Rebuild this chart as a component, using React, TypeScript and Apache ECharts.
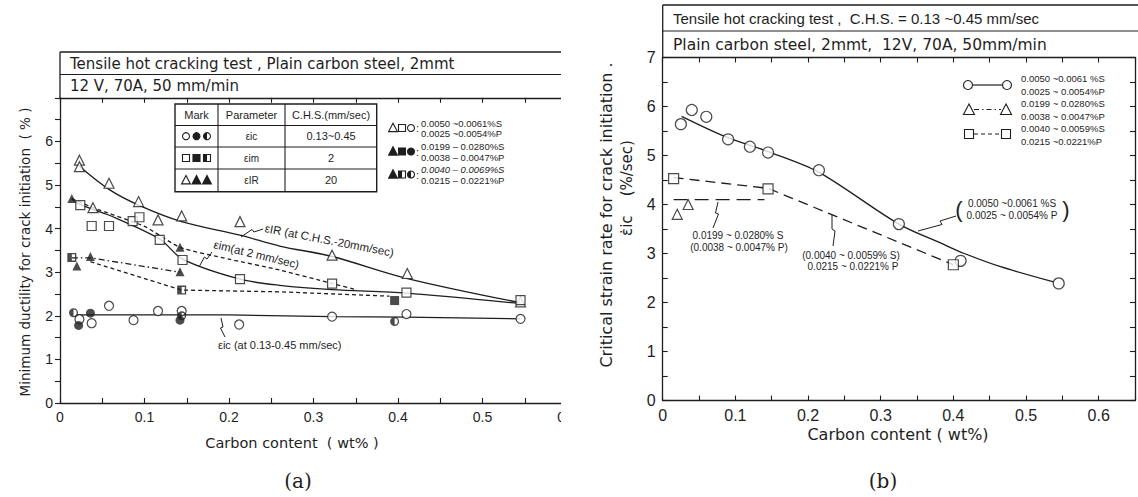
import React, { useEffect, useRef } from "react";
import * as echarts from "echarts";

// ---------------- Panel (a): minimum ductility vs carbon content ----------------
const aTriOpen = [[0.023, 5.57], [0.023, 5.42], [0.039, 4.48], [0.058, 5.04], [0.093, 4.62], [0.116, 4.2], [0.144, 4.29], [0.213, 4.16], [0.322, 3.39], [0.411, 2.97], [0.545, 2.32]];
const aTriFilled = [[0.014, 4.69], [0.142, 3.57], [0.02, 3.14], [0.036, 3.36], [0.142, 3.01]];
const aSqOpen = [[0.024, 4.54], [0.0375, 4.06], [0.058, 4.06], [0.086, 4.17], [0.094, 4.26], [0.118, 3.74], [0.145, 3.28], [0.213, 2.84], [0.322, 2.74], [0.41, 2.53], [0.545, 2.36]];
const aSqFilled = [[0.396, 2.35]];
const aSqHalf = [[0.014, 3.34], [0.144, 2.59]];
const aCirOpen = [[0.023, 1.92], [0.0375, 1.83], [0.058, 2.23], [0.087, 1.9], [0.116, 2.11], [0.144, 2.11], [0.212, 1.8], [0.322, 1.98], [0.41, 2.04], [0.545, 1.93]];
const aCirFilled = [[0.022, 1.78], [0.142, 1.9], [0.036, 2.06]];
const aCirHalf = [[0.016, 2.07], [0.144, 2.0], [0.396, 1.87]];

const aIrCurve = [[0.023, 5.43], [0.058, 4.9], [0.093, 4.54], [0.144, 4.16], [0.213, 3.85], [0.26, 3.6], [0.322, 3.36], [0.41, 2.86], [0.545, 2.3]];
const aImCurve = [[0.014, 4.68], [0.024, 4.55], [0.059, 4.3], [0.118, 3.76], [0.145, 3.3], [0.213, 2.84], [0.26, 2.7], [0.322, 2.6], [0.41, 2.52], [0.545, 2.28]];
const aIrDashed = [[0.014, 4.69], [0.039, 4.48], [0.1, 4.05], [0.142, 3.57], [0.2, 3.3], [0.26, 3.05], [0.322, 2.74], [0.35, 2.6]];
const aDashDot = [[0.014, 3.33], [0.036, 3.33], [0.142, 3.0]];
const aDashedHalf = [[0.036, 3.24], [0.144, 2.59], [0.26, 2.55], [0.39, 2.45]];
const aIcLine = [[0.02, 2.02], [0.2, 2.02], [0.322, 1.98], [0.41, 1.97], [0.545, 1.93]];

// ---------------- Panel (b): critical strain rate vs carbon content ----------------
const bCircles = [[0.025, 5.64], [0.04, 5.93], [0.06, 5.79], [0.09, 5.33], [0.12, 5.18], [0.145, 5.06], [0.215, 4.7], [0.325, 3.6], [0.41, 2.85], [0.545, 2.39]];
const bSquares = [[0.015, 4.53], [0.145, 4.32], [0.4, 2.77]];
const bTriangles = [[0.02, 3.8], [0.035, 4.0]];
const bSolidCurve = [[0.026, 5.8], [0.087, 5.38], [0.145, 5.08], [0.2135, 4.67], [0.325, 3.6], [0.383, 3.21], [0.415, 3.0], [0.465, 2.73], [0.538, 2.42]];
const bSquareLine = [[0.015, 4.55], [0.145, 4.33], [0.4, 2.77]];
const bTriangleLine = [[0.015, 4.1], [0.14, 4.1]];

const xTickStep = 0.05;
const yTickStep = 0.5;

const INK = "#1e1e1e";
const FONT = '"Liberation Sans", Arial, sans-serif';
const WIDE = '"DejaVu Sans", "Liberation Sans", sans-serif';
const SERIF = '"DejaVu Serif", "Liberation Serif", serif';

const HALF_RECT = "path://M0,0 H10 V10 H0 Z M5,1.5 V8.5 H8.5 V1.5 Z";
const HALF_CIRCLE = "path://M5,0 A5,5 0 1,1 5,10 A5,5 0 1,1 5,0 Z M5,1.5 L5,8.5 A3.5,3.5 0 0,0 5,1.5 Z";

const xFmt = (v: number) => {
  const k = Math.round(v * 100);
  if (k % 10 !== 0) return "";
  return k === 0 ? "0" : (k / 100).toFixed(1);
};

function txt(x: number, y: number, text: string, size: number, extra: any = {}) {
  const { align = "left", rotation = 0, family = FONT, style = {} } = extra;
  return {
    type: "text",
    x,
    y,
    rotation,
    z: 20,
    style: { text, fontSize: size, fontFamily: family, fill: INK, textAlign: align, textVerticalAlign: "middle", ...style },
  };
}
function ln(x1: number, y1: number, x2: number, y2: number, w = 1.2, dash: any = null) {
  return { type: "line", z: 20, shape: { x1, y1, x2, y2 }, style: { stroke: INK, lineWidth: w, lineDash: dash } };
}
function pl(points: number[][], w = 1) {
  return { type: "polyline", z: 20, shape: { points }, style: { stroke: INK, fill: null, lineWidth: w } };
}
function circ(cx: number, cy: number, r: number, kind: string) {
  const els: any[] = [{ type: "circle", z: 21, shape: { cx, cy, r }, style: { fill: kind === "filled" ? INK : "#fff", stroke: INK, lineWidth: 1.1 } }];
  if (kind === "half") els.push({ type: "sector", z: 22, shape: { cx, cy, r, r0: 0, startAngle: Math.PI / 2, endAngle: (3 * Math.PI) / 2 }, style: { fill: INK } });
  return els;
}
function sq(cx: number, cy: number, s: number, kind: string) {
  const els: any[] = [{ type: "rect", z: 21, shape: { x: cx - s / 2, y: cy - s / 2, width: s, height: s }, style: { fill: kind === "filled" ? INK : "#fff", stroke: INK, lineWidth: 1.1 } }];
  if (kind === "half") els.push({ type: "rect", z: 22, shape: { x: cx - s / 2, y: cy - s / 2, width: s / 2, height: s }, style: { fill: INK } });
  return els;
}
function tri(cx: number, cy: number, s: number, kind: string) {
  return [{ type: "polygon", z: 21, shape: { points: [[cx, cy - s * 0.6], [cx - s * 0.55, cy + s * 0.45], [cx + s * 0.55, cy + s * 0.45]] }, style: { fill: kind === "filled" ? INK : "#fff", stroke: INK, lineWidth: 1.1 } }];
}

function buildGraphics() {
  const g: any[] = [];
  // ---------- panel (a) header ----------
  g.push(ln(60, 52, 561, 52, 1.3), ln(60, 74.5, 561, 74.5, 1.1), ln(60, 52, 60, 98, 1.3));
  g.push(txt(70, 63.5, "Tensile hot cracking test , Plain carbon steel, 2mmt", 15, { family: WIDE }));
  g.push(txt(70, 86, "12 V, 70A, 50 mm/min", 15, { family: WIDE }));
  // ---------- panel (a) table ----------
  const tL = 175, tR = 376.7, tT = 104, tB = 191.7;
  g.push({ type: "rect", z: 20, shape: { x: tL, y: tT, width: tR - tL, height: tB - tT }, style: { fill: "#fff", stroke: INK, lineWidth: 1.4 } });
  [125.5, 147, 169].forEach((y) => g.push(ln(tL, y, tR, y, 1.1)));
  [218, 285].forEach((x) => g.push(ln(x, tT, x, tB, 1.1)));
  const rows = [114.7, 136.2, 158, 180.3];
  g.push(txt(196.5, rows[0], "Mark", 11, { align: "center" }));
  g.push(txt(251.5, rows[0], "Parameter", 11, { align: "center" }));
  g.push(txt(331, rows[0], "C.H.S.(mm/sec)", 11, { align: "center" }));
  g.push(...circ(186, rows[1], 3.5, "open"), ...circ(196.5, rows[1], 3.5, "filled"), ...circ(207, rows[1], 3.5, "half"));
  g.push(...sq(186, rows[2], 7, "open"), ...sq(196.5, rows[2], 7, "filled"), ...sq(207, rows[2], 7, "half"));
  g.push(...tri(186, rows[3], 8, "open"), ...tri(196.5, rows[3], 8, "filled"), ...tri(207, rows[3], 8, "filled"));
  g.push(txt(251.5, rows[1], "εic", 10, { align: "center" }));
  g.push(txt(251.5, rows[2], "εim", 10, { align: "center" }));
  g.push(txt(251.5, rows[3], "εIR", 10, { align: "center" }));
  g.push(txt(331, rows[1], "0.13~0.45", 11, { align: "center" }));
  g.push(txt(331, rows[2], "2", 11, { align: "center" }));
  g.push(txt(331, rows[3], "20", 11, { align: "center" }));
  // ---------- panel (a) composition key ----------
  const keyRows = [128, 151.5, 174.5];
  g.push(...tri(393, keyRows[0], 8, "open"), ...sq(402, keyRows[0], 7, "open"), ...circ(411, keyRows[0], 3.5, "open"));
  g.push(...tri(393, keyRows[1], 8, "filled"), ...sq(402, keyRows[1], 7, "filled"), ...circ(411, keyRows[1], 3.5, "filled"));
  g.push(...tri(393, keyRows[2], 8, "filled"), ...sq(402, keyRows[2], 7, "half"), ...circ(411, keyRows[2], 3.5, "half"));
  keyRows.forEach((y) => g.push(txt(416, y, ":", 11)));
  g.push(txt(421, 123, "0.0050 ~0.0061%S", 9.5), txt(421, 133.5, "0.0025 ~0.0054%P", 9.5));
  g.push(txt(421, 146.5, "0.0199 – 0.0280%S", 9.5), txt(421, 157, "0.0038 – 0.0047%P", 9.5));
  g.push(txt(421, 169.5, "0.0040 – 0.0069%S", 9.5, { style: { fontStyle: "italic" } }), txt(421, 180, "0.0215 – 0.0221%P", 9.5));
  // ---------- panel (a) annotations ----------
  g.push(txt(265, 228, "εIR (at C.H.S.-20mm/sec)", 11.5, { rotation: -0.19 }));
  g.push(pl([[263, 229], [254, 232], [252, 229.5], [241, 237]]));
  g.push(txt(214, 244, "εim(at 2 mm/sec)", 11.5, { rotation: -0.24 }));
  g.push(pl([[212, 252], [207, 259], [204.5, 257], [199, 267]]));
  g.push(txt(218, 345, "εic (at 0.13-0.45 mm/sec)", 11));
  g.push(pl([[221, 318], [223, 327], [220.5, 328], [225, 337]]));
  // ---------- panel (a) axis titles / caption ----------
  g.push(txt(25, 252, "Minimum ductility for crack initiation  ( % )", 13.5, { align: "center", rotation: Math.PI / 2, family: WIDE }));
  g.push(txt(292, 443, "Carbon content  ( wt% )", 14.5, { align: "center", family: WIDE }));
  g.push(txt(298, 481, "(a)", 20, { align: "center", family: SERIF }));

  // crop of panel (a)
  g.push({ type: "rect", z: 100, shape: { x: 561, y: 0, width: 24, height: 497 }, style: { fill: "#fff" } });

  // ---------- panel (b) header ----------
  g.push(ln(662.7, 5, 1138, 5, 1.3), ln(662.7, 31, 1138, 31, 1.1), ln(662.7, 5, 662.7, 58, 1.3));
  g.push(txt(673, 18.5, "Tensile hot cracking test ,  C.H.S. = 0.13 ~0.45 mm/sec", 15));
  g.push(txt(673, 44.5, "Plain carbon steel, 2mmt,  12V, 70A, 50mm/min", 15.5, { family: WIDE }));
  // ---------- panel (b) legend ----------
  g.push(ln(972.5, 85, 1002.5, 85, 1.2), ...circ(968, 85, 4.5, "open"), ...circ(1007, 85, 4.5, "open"));
  g.push(ln(974, 109.5, 1001, 109.5, 1.1, [5, 3, 1.5, 3]), ...tri(969, 110, 10, "open"), ...tri(1006, 110, 10, "open"));
  g.push(ln(974, 134, 1001, 134, 1.1, [4, 3]), ...sq(969, 134, 9, "open"), ...sq(1006, 134, 9, "open"));
  g.push(txt(1021, 78.5, "0.0050 ~0.0061 %S", 9.5), txt(1021, 91, "0.0025 ~ 0.0054%P", 9.5));
  g.push(txt(1021, 103.5, "0.0199 ~ 0.0280%S", 9.5), txt(1021, 116, "0.0038 ~ 0.0047%P", 9.5));
  g.push(txt(1021, 128.5, "0.0040 ~ 0.0059%S", 9.5), txt(1021, 141, "0.0215 ~0.0221%P", 9.5));
  // ---------- panel (b) annotations ----------
  g.push(txt(738, 235, "0.0199 ~ 0.0280% S", 10, { align: "center" }));
  g.push(txt(739, 247, "(0.0038 ~ 0.0047% P)", 10, { align: "center" }));
  g.push(pl([[718, 202], [715.5, 213], [718.5, 214], [713, 228]]));
  g.push(txt(851, 255, "(0.0040 ~ 0.0059% S)", 10, { align: "center" }));
  g.push(txt(853, 266.5, "0.0215 ~ 0.0221% P", 10, { align: "center" }));
  g.push(pl([[832, 215], [832, 229], [835, 231], [833, 246]]));
  g.push(txt(1012, 203, "0.0050 ~0.0061 %S", 10, { align: "center" }));
  g.push(txt(1012, 215, "0.0025 ~ 0.0054% P", 10, { align: "center" }));
  g.push(txt(959, 209, "(", 22, { align: "center" }), txt(1066, 209, ")", 22, { align: "center" }));
  g.push(pl([[956, 216], [940, 221], [942, 224.5], [918, 231]]));
  // ---------- panel (b) axis titles / caption ----------
  g.push(txt(606, 215, "Critical strain rate for crack initiation .", 16, { align: "center", rotation: Math.PI / 2, family: WIDE }));
  g.push(txt(627, 188, "ε̇ic    (%/sec)", 15, { align: "center", rotation: Math.PI / 2, family: WIDE }));
  g.push(txt(898, 434, "Carbon content ( wt%)", 16, { align: "center", family: WIDE }));
  g.push(txt(883, 481, "(b)", 20, { align: "center", family: SERIF }));
  return g;
}

function xAxisCfg(gridIndex: number, max: number, position: string, labels: boolean, labelSize: number) {
  return {
    type: "value",
    gridIndex,
    min: 0,
    max,
    interval: xTickStep,
    position,
    axisLine: { show: true, onZero: false, lineStyle: { color: INK, width: 1.3 } },
    axisTick: { show: true, inside: true, length: 5, lineStyle: { color: INK, width: 1.1 } },
    axisLabel: { show: labels, formatter: xFmt, fontSize: labelSize, fontFamily: FONT, color: INK, margin: 7 },
    splitLine: { show: false },
  };
}
function yAxisCfg(gridIndex: number, position: string, labels: boolean, showSeven: boolean, inside: boolean, labelSize: number) {
  return {
    type: "value",
    gridIndex,
    min: 0,
    max: 7,
    interval: yTickStep,
    position,
    axisLine: { show: true, onZero: false, lineStyle: { color: INK, width: 1.3 } },
    axisTick: { show: true, inside, length: 5, lineStyle: { color: INK, width: 1.1 } },
    axisLabel: {
      show: labels,
      formatter: (v: number) => (Number.isInteger(v) && (showSeven || v < 7) ? String(v) : ""),
      fontSize: labelSize,
      fontFamily: FONT,
      color: INK,
      margin: 7,
    },
    splitLine: { show: false },
  };
}

function scatter(data: number[][], xi: number, yi: number, symbol: string, size: number, kind: string) {
  return {
    type: "scatter",
    xAxisIndex: xi,
    yAxisIndex: yi,
    data,
    symbol,
    symbolSize: size,
    z: 5,
    itemStyle: kind === "open" ? { color: "#fff", borderColor: INK, borderWidth: 1.2 } : { color: INK, borderWidth: 0 },
  };
}
function curve(data: number[][], xi: number, yi: number, type: any, smooth: any = false) {
  return {
    type: "line",
    xAxisIndex: xi,
    yAxisIndex: yi,
    data,
    smooth,
    showSymbol: false,
    symbol: "none",
    z: 2,
    lineStyle: { color: INK, width: 1.3, type },
  };
}

export default function App() {
  const ref = useRef<HTMLDivElement>(null);
  useEffect(() => {
    if (!ref.current) return;
    const chart = echarts.init(ref.current, undefined, { renderer: "svg" });
    chart.setOption({
      animation: false,
      backgroundColor: "#fff",
      grid: [
        { left: 60, top: 97.8, width: 507, height: 305.2 },
        { left: 662.7, top: 57.5, width: 475.8, height: 343 },
      ],
      xAxis: [
        xAxisCfg(0, 0.6, "bottom", true, 14),
        xAxisCfg(0, 0.6, "top", false, 14),
        xAxisCfg(1, 0.65, "bottom", true, 16),
        xAxisCfg(1, 0.65, "top", false, 16),
      ],
      yAxis: [
        yAxisCfg(0, "left", true, false, false, 14),
        yAxisCfg(1, "left", true, true, true, 16),
        yAxisCfg(1, "right", false, false, true, 16),
      ],
      series: [
        // panel (a) lines
        curve(aIrCurve, 0, 0, "solid", 0.35),
        curve(aImCurve, 0, 0, "solid", 0.3),
        curve(aIrDashed, 0, 0, [4, 3], 0.2),
        curve(aDashDot, 0, 0, [6, 3, 1.5, 3]),
        curve(aDashedHalf, 0, 0, [4, 3]),
        curve(aIcLine, 0, 0, "solid"),
        // panel (a) marks
        scatter(aTriOpen, 0, 0, "triangle", 10, "open"),
        scatter(aTriFilled, 0, 0, "triangle", 9, "filled"),
        scatter(aSqOpen, 0, 0, "rect", 9, "open"),
        scatter(aSqFilled, 0, 0, "rect", 9, "filled"),
        scatter(aSqHalf, 0, 0, HALF_RECT, 9, "filled"),
        scatter(aCirOpen, 0, 0, "circle", 9, "open"),
        scatter(aCirFilled, 0, 0, "circle", 9, "filled"),
        scatter(aCirHalf, 0, 0, HALF_CIRCLE, 9, "filled"),
        // panel (b)
        curve(bSolidCurve, 2, 1, "solid", 0.3),
        curve(bSquareLine, 2, 1, [10, 6]),
        curve(bTriangleLine, 2, 1, [14, 7]),
        scatter(bCircles, 2, 1, "circle", 11, "open"),
        scatter(bSquares, 2, 1, "rect", 10, "open"),
        scatter(bTriangles, 2, 1, "triangle", 10, "open"),
      ],
      graphic: { elements: buildGraphics() },
    });
    return () => chart.dispose();
  }, []);
  return (
    <div style={{ position: "absolute", left: 0, top: 0, width: 1138, height: 497, background: "#fff" }}>
      <div ref={ref} style={{ width: 1138, height: 497 }} />
    </div>
  );
}
